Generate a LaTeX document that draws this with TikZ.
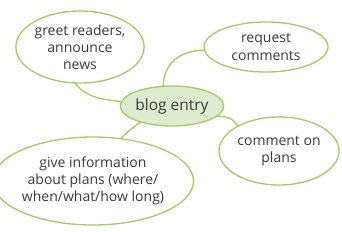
\documentclass[tikz,border=0pt]{standalone}
\usepackage{fontspec}
\setmainfont{Open Sans}
\usetikzlibrary{shapes.geometric}
\definecolor{lgreen}{HTML}{A2CC62}
\definecolor{lfill}{HTML}{DFEBCF}
\definecolor{txt}{HTML}{3A3A3A}
\tikzset{
  bubble/.style={ellipse, draw=lgreen, line width=1.3pt, inner sep=0pt, outer sep=0pt,
    align=center, text=txt, font=\fontsize{14}{17.2}\selectfont},
  link/.style={draw=lgreen, line width=1.3pt}
}
\begin{document}
\begin{tikzpicture}[x=1pt,y=1pt]
\useasboundingbox (0,0) rectangle (342,231);
\node[bubble, minimum width=116, minimum height=72] (greet) at (80,184) {greet readers,\\announce\\news};
\node[bubble, minimum width=124, minimum height=50] (request) at (266,184) {request\\comments};
\node[bubble, minimum width=178, minimum height=88] (give) at (93,50) {give information\\about plans (where/\\when/what/how long)};
\node[bubble, minimum width=120, minimum height=68] (comment) at (279,80) {comment on\\plans};
\node[bubble, fill=lfill, minimum width=94, minimum height=40, font=\fontsize{15.5}{17}\selectfont] (blog) at (172,125) {blog entry};
\draw[link] (greet.262) .. controls +(10,-14) and +(-20,2) .. (blog.175);
\draw[link] (blog.114) .. controls +(0,22) and +(-25,0) .. (request.183);
\draw[link] (blog.207) .. controls +(-8,-6) and +(8,8) .. (give.57);
\draw[link] (blog.-13) .. controls +(15,0) and +(-4,6) .. (comment.149);
\end{tikzpicture}
\end{document}
